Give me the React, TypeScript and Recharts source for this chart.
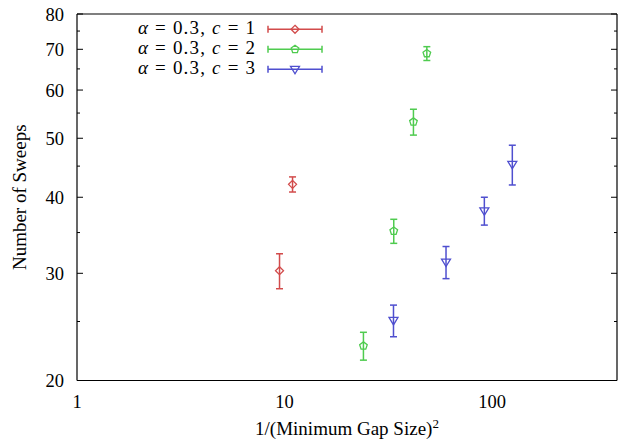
import React from 'react';
import { ScatterChart, Scatter, ErrorBar, XAxis, YAxis, Legend } from 'recharts';

const FONT = '"Liberation Serif", "Times New Roman", serif';

// x = 1/(gap)^2, y = sweeps, err = half-height of the error bar
const redX = [9.46, 10.93];
const redY = [30.3, 42.0];
const redErr = [2.0, 1.2];

const greenX = [24.0, 33.6, 41.8, 48.5];
const greenY = [22.8, 35.2, 53.2, 68.9];
const greenErr = [1.2, 1.6, 2.6, 1.8];

const blueX = [33.5, 60.0, 91.8, 125.2];
const blueY = [25.1, 31.3, 38.0, 45.3];
const blueErr = [1.5, 1.9, 2.0, 3.4];

const xMajor = [1, 10, 100];
const xMinor = [2, 3, 4, 5, 6, 7, 8, 9, 20, 30, 40, 50, 60, 70, 80, 90, 200, 300, 400];
const yMajor = [20, 30, 40, 50, 60, 70, 80];
const yMinor = [25, 35, 45, 55, 65, 75];

const toRows = (xs: number[], ys: number[], es: number[]) =>
  xs.map((x, i) => ({ x, y: ys[i], err: es[i] }));

const RED = '#d24b4b';
const GREEN = '#4fcb4f';
const BLUE = '#4f4fcf';

const diamond = (cx: number, cy: number, c: string) => (
  <polygon points={`${cx},${cy - 4} ${cx + 4},${cy} ${cx},${cy + 4} ${cx - 4},${cy}`} fill="none" stroke={c} strokeWidth={1.3} />
);
const pentagon = (cx: number, cy: number, c: string) => {
  const pts = [0, 1, 2, 3, 4]
    .map((k) => {
      const a = -Math.PI / 2 + (k * 2 * Math.PI) / 5;
      return `${cx + 4 * Math.cos(a)},${cy + 4 * Math.sin(a)}`;
    })
    .join(' ');
  return <polygon points={pts} fill="none" stroke={c} strokeWidth={1.3} />;
};
const triDown = (cx: number, cy: number, c: string) => (
  <polygon points={`${cx - 4.5},${cy - 3} ${cx + 4.5},${cy - 3} ${cx},${cy + 4.5}`} fill="none" stroke={c} strokeWidth={1.3} />
);

const series = [
  { name: 'c1', c: 1, data: toRows(redX, redY, redErr), color: RED, marker: diamond },
  { name: 'c2', c: 2, data: toRows(greenX, greenY, greenErr), color: GREEN, marker: pentagon },
  { name: 'c3', c: 3, data: toRows(blueX, blueY, blueErr), color: BLUE, marker: triDown },
];

// inward gnuplot-style ticks drawn on the mirrored axes
const makeTick = (side: string, majors: number[]) => (props: any) => {
  const { x, y, payload } = props;
  const len = majors.includes(payload.value) ? 6 : 3;
  let x2 = x;
  let y2 = y;
  if (side === 'bottom') y2 = y - len;
  if (side === 'top') y2 = y + len;
  if (side === 'left') x2 = x + len;
  if (side === 'right') x2 = x - len;
  return <line x1={x} y1={y} x2={x2} y2={y2} stroke="#000" strokeWidth={1} />;
};

const XTitle = (props: any) => {
  const vb = props.viewBox;
  return (
    <text x={vb.x + vb.width / 2} y={435} textAnchor="middle" fontFamily={FONT} fontSize={19} fill="#000">
      <tspan>1/(Minimum Gap Size)</tspan>
      <tspan dy={-7} fontSize={13}>2</tspan>
    </text>
  );
};

const YTitle = (props: any) => {
  const vb = props.viewBox;
  const cy = vb.y + vb.height / 2;
  return (
    <text x={19} y={cy} transform={`rotate(-90, 19, ${cy})`} textAnchor="middle" dominantBaseline="central" fontFamily={FONT} fontSize={19} fill="#000">
      Number of Sweeps
    </text>
  );
};

const KeyBox = () => (
  <svg width={618} height={90} style={{ display: 'block' }}>
    {series.map((s, i) => {
      const ly = 29.3 + i * 20;
      return (
        <g key={s.name}>
          <text x={138} y={ly + 5} textLength={117} lengthAdjust="spacing" fontFamily={FONT} fontSize={19} fill="#000">
            <tspan fontStyle="italic">α</tspan>
            {' = 0.3, '}
            <tspan fontStyle="italic">c</tspan>
            {` = ${s.c}`}
          </text>
          <line x1={268} y1={ly} x2={322} y2={ly} stroke={s.color} strokeWidth={1.5} />
          <line x1={268} y1={ly - 3.5} x2={268} y2={ly + 3.5} stroke={s.color} strokeWidth={1.5} />
          <line x1={322} y1={ly - 3.5} x2={322} y2={ly + 3.5} stroke={s.color} strokeWidth={1.5} />
          {s.marker(295, ly, s.color)}
        </g>
      );
    })}
  </svg>
);

const tickFont = { fill: '#000', fontSize: 18.5, fontFamily: FONT };

export default function App() {
  return (
    <div style={{ position: 'absolute', left: 0, top: 0, background: '#fff' }}>
      <ScatterChart width={618} height={440} margin={{ top: 14, right: 1, bottom: 0, left: 0 }}>
        <XAxis xAxisId="x" type="number" dataKey="x" scale="log" domain={[1, 400]} allowDataOverflow ticks={xMajor} interval={0}
          height={59.5} tickLine={false} axisLine={false} tickSize={0} tickMargin={14} tick={tickFont} label={{ content: XTitle }} />
        <XAxis xAxisId="xb" type="number" orientation="bottom" mirror scale="log" domain={[1, 400]} allowDataOverflow
          ticks={[...xMajor, ...xMinor]} interval={0} tickLine={false} tickSize={0} tickMargin={0}
          axisLine={{ stroke: '#000', strokeWidth: 1.2 }} tick={makeTick('bottom', xMajor)} />
        <XAxis xAxisId="xt" type="number" orientation="top" mirror scale="log" domain={[1, 400]} allowDataOverflow
          ticks={[...xMajor, ...xMinor]} interval={0} tickLine={false} tickSize={0} tickMargin={0}
          axisLine={{ stroke: '#000', strokeWidth: 1.2 }} tick={makeTick('top', xMajor)} />
        <YAxis yAxisId="y" type="number" dataKey="y" scale="log" domain={[20, 80]} allowDataOverflow ticks={yMajor} interval={0}
          width={77} tickLine={false} axisLine={false} tickSize={0} tickMargin={13} tick={tickFont} label={{ content: YTitle }} />
        <YAxis yAxisId="yl" type="number" orientation="left" mirror scale="log" domain={[20, 80]} allowDataOverflow
          ticks={[...yMajor, ...yMinor]} interval={0} tickLine={false} tickSize={0} tickMargin={0}
          axisLine={{ stroke: '#000', strokeWidth: 1.2 }} tick={makeTick('left', yMajor)} />
        <YAxis yAxisId="yr" type="number" orientation="right" mirror scale="log" domain={[20, 80]} allowDataOverflow
          ticks={[...yMajor, ...yMinor]} interval={0} tickLine={false} tickSize={0} tickMargin={0}
          axisLine={{ stroke: '#000', strokeWidth: 1.2 }} tick={makeTick('right', yMajor)} />
        <Legend layout="vertical" align="center" verticalAlign="middle" content={KeyBox}
          wrapperStyle={{ left: 0, top: 0, width: 618, height: 90, pointerEvents: 'none' }} />
        {series.map((s) => (
          <Scatter key={s.name} name={s.name} data={s.data} xAxisId="x" yAxisId="y" fill={s.color} isAnimationActive={false}
            shape={(p: any) => s.marker(p.cx, p.cy, s.color)}>
            <ErrorBar dataKey="err" direction="y" width={3.5} stroke={s.color} strokeWidth={1.5} isAnimationActive={false} />
          </Scatter>
        ))}
      </ScatterChart>
    </div>
  );
}
